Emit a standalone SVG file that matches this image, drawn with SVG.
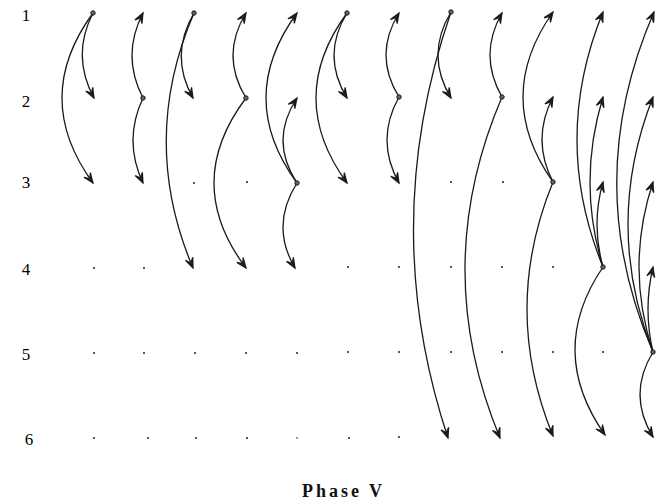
<svg xmlns="http://www.w3.org/2000/svg" width="664" height="500" viewBox="0 0 664 500">
<style>
.lbl{font-family:"Liberation Serif","DejaVu Serif",serif;font-size:17px;fill:#000;text-anchor:middle}
.title{font-family:"Liberation Serif","DejaVu Serif",serif;font-size:18px;font-weight:bold;fill:#111}
.e{fill:none;stroke:#1a1a1a;stroke-width:1.3;marker-end:url(#ah)}
.n{fill:#666;stroke:#1a1a1a;stroke-width:1}
.d{fill:#222}
</style>
<defs>
<marker id="ah" markerUnits="userSpaceOnUse" viewBox="-12 -6 14 12" refX="0" refY="0" markerWidth="14" markerHeight="12" orient="auto">
<path d="M-10,-4 L0,0 L-10,4 M-10,-4 L-5.5,0 L-10,4 M-7,-2.5 L-3,0 L-7,2.5" fill="none" stroke="#1a1a1a" stroke-width="1.2"/>
</marker>
</defs>
<rect width="664" height="500" fill="#fff"/>
<g id="labels">
<text class="lbl" x="26" y="21">1</text>
<text class="lbl" x="26" y="107">2</text>
<text class="lbl" x="26" y="188">3</text>
<text class="lbl" x="26" y="275">4</text>
<text class="lbl" x="26" y="360">5</text>
<text class="lbl" x="29" y="445">6</text>
</g>
<g id="dots">
<circle class="d" cx="194" cy="183" r="1"/>
<circle class="d" cx="247" cy="182" r="1"/>
<circle class="d" cx="451" cy="182" r="1"/>
<circle class="d" cx="503" cy="182" r="1"/>
<circle class="d" cx="94" cy="268" r="1"/>
<circle class="d" cx="144" cy="268" r="1"/>
<circle class="d" cx="348" cy="267" r="1"/>
<circle class="d" cx="399" cy="267" r="1"/>
<circle class="d" cx="451" cy="267" r="1"/>
<circle class="d" cx="502" cy="267" r="1"/>
<circle class="d" cx="553" cy="267" r="1"/>
<circle class="d" cx="94" cy="353" r="1"/>
<circle class="d" cx="144" cy="353" r="1"/>
<circle class="d" cx="195" cy="353" r="1"/>
<circle class="d" cx="246" cy="353" r="1"/>
<circle class="d" cx="297" cy="353" r="1"/>
<circle class="d" cx="348" cy="352" r="1"/>
<circle class="d" cx="399" cy="352" r="1"/>
<circle class="d" cx="451" cy="352" r="1"/>
<circle class="d" cx="502" cy="352" r="1"/>
<circle class="d" cx="553" cy="352" r="1"/>
<circle class="d" cx="603" cy="352" r="1"/>
<circle class="d" cx="94" cy="438" r="1"/>
<circle class="d" cx="148" cy="438" r="1"/>
<circle class="d" cx="196" cy="438" r="1"/>
<circle class="d" cx="247" cy="438" r="1"/>
<circle class="d" cx="297" cy="438" r="0.8"/>
<circle class="d" cx="349" cy="438" r="1"/>
<circle class="d" cx="399" cy="437" r="1"/>
</g>
<g id="connectors">
<path class="e" d="M93,13 Q71,55.5 94,98"/>
<path class="e" d="M93,13 Q31,98 93,183"/>
<path class="e" d="M143,98 Q121,55.5 143,13"/>
<path class="e" d="M143,98 Q123,140.5 143,183"/>
<path class="e" d="M194,13 Q169,55.5 193,98"/>
<path class="e" d="M194,13 Q139,140.5 193,268"/>
<path class="e" d="M246,98 Q220,55.5 246,13"/>
<path class="e" d="M246,98 Q182,183 246,268"/>
<path class="e" d="M297,183 Q235,98 297,13"/>
<path class="e" d="M297,183 Q269,140.5 297,98"/>
<path class="e" d="M297,183 Q270,225.5 295,268"/>
<path class="e" d="M347,13 Q321,55.5 347,98"/>
<path class="e" d="M347,13 Q285,98 347,183"/>
<path class="e" d="M399,97 Q373,55 399,13"/>
<path class="e" d="M399,97 Q375,140 399,183"/>
<path class="e" d="M451,12 Q425,55 451,98"/>
<path class="e" d="M451,12 Q377.5,225 448,438"/>
<path class="e" d="M502,97 Q478,55 502,13"/>
<path class="e" d="M502,97 Q429,267.5 500,438"/>
<path class="e" d="M553,182 Q493,97 553,12"/>
<path class="e" d="M553,182 Q531,139.5 553,97"/>
<path class="e" d="M553,182 Q501,309 553,436"/>
<path class="e" d="M603,267 Q551,139.5 603,12"/>
<path class="e" d="M603,267 Q577,182 603,97"/>
<path class="e" d="M603,267 Q591,224.5 603,182"/>
<path class="e" d="M603,267 Q546,351 605,435"/>
<path class="e" d="M653,352 Q580,182 654,12"/>
<path class="e" d="M653,352 Q603,224.5 653,97"/>
<path class="e" d="M653,352 Q625,267 653,182"/>
<path class="e" d="M653,352 Q643,309.5 653,267"/>
<path class="e" d="M653,352 Q627,394.5 653,437"/>
</g>
<g id="node-c1"><circle class="n" cx="93" cy="13" r="2.2"/></g>
<g id="node-c2"><circle class="n" cx="143" cy="98" r="2.2"/></g>
<g id="node-c3"><circle class="n" cx="194" cy="13" r="2.2"/></g>
<g id="node-c4"><circle class="n" cx="246" cy="98" r="2.2"/></g>
<g id="node-c5"><circle class="n" cx="297" cy="183" r="2.2"/></g>
<g id="node-c6"><circle class="n" cx="347" cy="13" r="2.2"/></g>
<g id="node-c7"><circle class="n" cx="399" cy="97" r="2.2"/></g>
<g id="node-c8"><circle class="n" cx="451" cy="12" r="2.2"/></g>
<g id="node-c9"><circle class="n" cx="502" cy="97" r="2.2"/></g>
<g id="node-c10"><circle class="n" cx="553" cy="182" r="2.2"/></g>
<g id="node-c11"><circle class="n" cx="603" cy="267" r="2.2"/></g>
<g id="node-c12"><circle class="n" cx="653" cy="352" r="2.2"/></g>
<text class="title" x="302" y="497" textLength="80" lengthAdjust="spacing">Phase V</text>
</svg>
